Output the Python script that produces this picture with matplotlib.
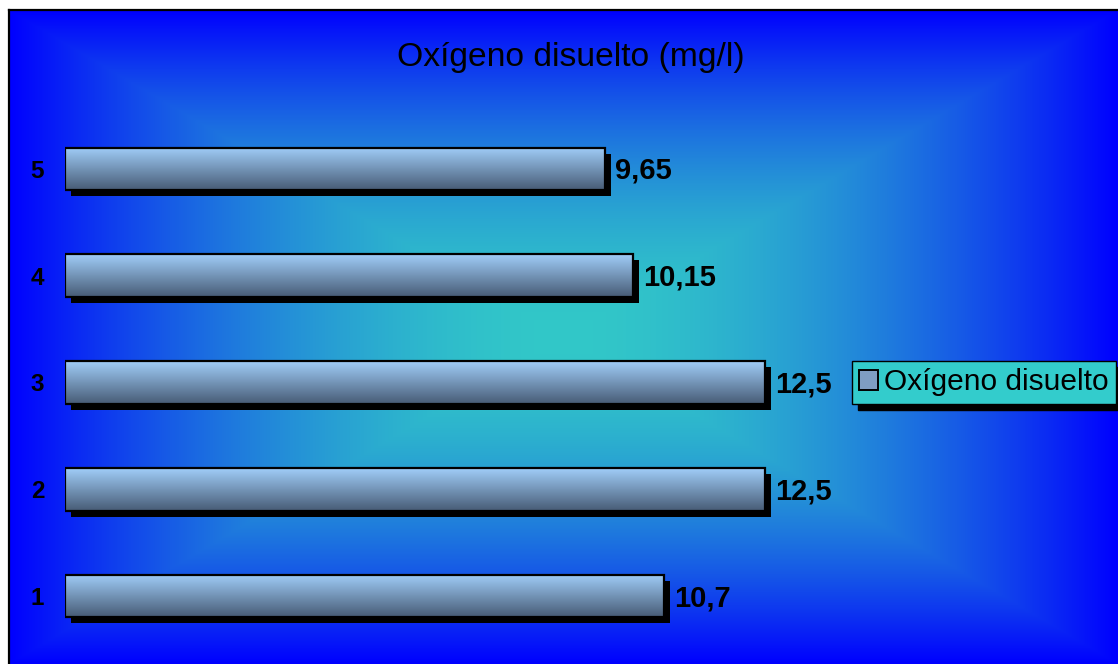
import matplotlib
matplotlib.use('Agg')
import matplotlib.pyplot as plt
import numpy as np
from matplotlib.patches import Patch
from matplotlib import transforms

plt.rcParams['font.family'] = ['Liberation Sans', 'DejaVu Sans']

# datos
puntos = ['1', '2', '3', '4', '5']
oxigeno = [10.7, 12.5, 12.5, 10.15, 9.65]
etiquetas = ['10,7', '12,5', '12,5', '10,15', '9,65']

W, H = 1118, 664
fig = plt.figure(figsize=(W / 100, H / 100), dpi=100)
fig.patch.set_facecolor('white')

# fondo con degradado rectangular (cian en el centro, azul en los bordes)
bg = fig.add_axes([9 / W, 0, 1109 / W, 654 / H])
gx = np.linspace(-1, 1, 600)
gy = np.linspace(-1, 1, 400)
X, Y = np.meshgrid(gx, gy)
t = np.maximum(np.abs(X), np.abs(Y)) ** 1.8
centro = np.array([50, 200, 200]) / 255
borde = np.array([0, 0, 255]) / 255
img = centro[None, None, :] * (1 - t[..., None]) + borde[None, None, :] * t[..., None]
bg.imshow(img, extent=[0, 1, 0, 1], aspect='auto')
bg.set_xticks([])
bg.set_yticks([])
for lado in ['right', 'bottom']:
    bg.spines[lado].set_visible(False)
for lado in ['left', 'top']:
    bg.spines[lado].set_linewidth(1.6)
    bg.spines[lado].set_color('black')

ax = fig.add_axes([65 / W, 1 - 649.5 / H, 784 / W, 534 / H])
ax.patch.set_alpha(0)

y = np.arange(1, len(puntos) + 1)
alto = 0.4

# sombra negra desplazada
sombras = ax.barh(y, oxigeno, height=alto, color='black', zorder=1)
desp = transforms.ScaledTranslation(6 / 100, -6 / 100, fig.dpi_scale_trans)
for p in sombras:
    p.set_transform(ax.transData + desp)

# relleno degradado de cada barra
grad = np.linspace(0, 1, 64)[:, None]
c_arriba = np.array([160, 205, 248]) / 255
c_abajo = np.array([72, 92, 118]) / 255
barra_img = (c_arriba[None, None, :] * (1 - grad[..., None])
             + c_abajo[None, None, :] * grad[..., None])
for yi, v in zip(y, oxigeno):
    ax.imshow(barra_img, extent=[0, v, yi - alto / 2, yi + alto / 2],
              aspect='auto', origin='upper', zorder=2)

ax.barh(y, oxigeno, height=alto, facecolor='none', edgecolor='black',
        linewidth=1.6, zorder=3)

for yi, v, txt in zip(y, oxigeno, etiquetas):
    ax.annotate(txt, (v, yi), xytext=(7, -1.5), textcoords='offset points',
                va='center', ha='left', fontsize=21, fontweight='bold',
                color='black', zorder=4)

ax.set_xlim(0, 14)
ax.set_ylim(0.5, 5.5)
ax.set_xticks([])
ax.set_yticks(y)
ax.set_yticklabels(puntos, fontsize=17.5, fontweight='bold')
ax.tick_params(axis='y', length=0, pad=15)
for s in ax.spines.values():
    s.set_visible(False)

fig.text(571 / W, 1 - 66 / H, 'Oxígeno disuelto (mg/l)', ha='center',
         va='baseline', fontsize=24.2)

leyenda = fig.legend(
    handles=[Patch(facecolor='#7F9DC2', edgecolor='black', linewidth=1.4,
                   label='Oxígeno disuelto')],
    loc='center left', bbox_to_anchor=(852 / W, 1 - 382.5 / H),
    fontsize=21.5, frameon=True, fancybox=False, framealpha=1,
    facecolor='#33CCCC', edgecolor='black', borderpad=0.25,
    handlelength=0.62, handleheight=0.62, handletextpad=0.2,
    borderaxespad=0, shadow={'color': 'black', 'alpha': 1, 'ox': 4, 'oy': -4})
leyenda.get_frame().set_linewidth(1.0)

fig.savefig('out.png', dpi=100)
